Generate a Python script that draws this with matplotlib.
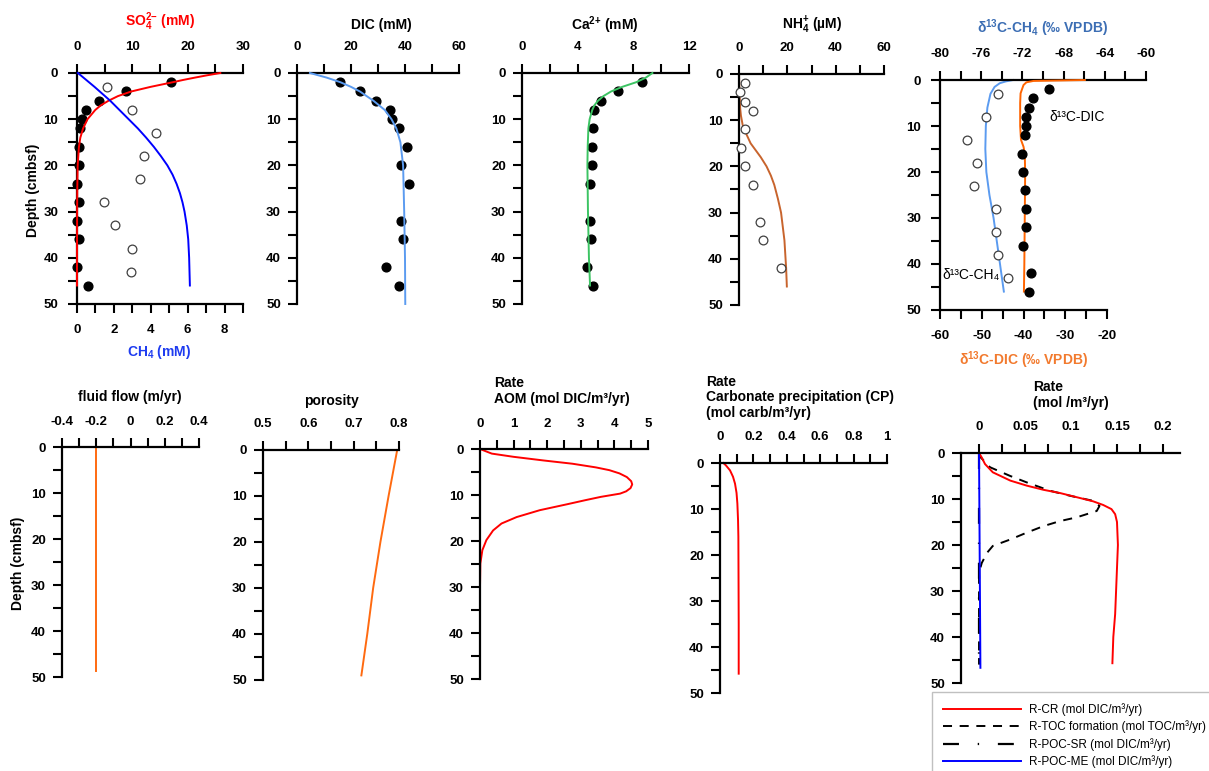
import matplotlib
matplotlib.use("Agg")
import matplotlib.pyplot as plt

plt.rcParams['font.family'] = ['Liberation Sans', 'DejaVu Sans']
plt.rcParams['font.weight'] = 'bold'
plt.rcParams['mathtext.fontset'] = 'custom'
plt.rcParams['mathtext.rm'] = 'Liberation Sans:bold'
plt.rcParams['mathtext.it'] = 'Liberation Sans:bold'
plt.rcParams['mathtext.bf'] = 'Liberation Sans:bold'
plt.rcParams['mathtext.default'] = 'rm'
plt.rcParams['lines.scale_dashes'] = False
plt.rcParams['axes.unicode_minus'] = False

# ---------------- data ----------------
depth_ticks = [0, 5, 10, 15, 20, 25, 30, 35, 40, 45, 50]
depth_labels = ['0', '', '10', '', '20', '', '30', '', '40', '', '50']

# Panel 1: sulfate (measured, filled) and methane (measured, open)
so4_depth = [2, 4, 6, 8, 10, 12, 16, 20, 24, 28, 32, 36, 42, 46]
so4_val = [16.9, 8.9, 4.0, 1.7, 0.9, 0.6, 0.35, 0.4, 0.0, 0.3, 0.0, 0.3, 0.0, 1.9]
ch4_depth = [3, 8, 13, 18, 23, 28, 33, 38, 43]
ch4_val = [1.63, 2.97, 4.26, 3.65, 3.43, 1.47, 2.04, 2.99, 2.92]
so4_mod_depth = [0, 0.5, 1, 1.5, 2, 3, 4, 5, 6, 7, 8, 10, 12, 14, 16, 20, 25, 30, 40, 46]
so4_mod = [25.9, 23.5, 21.3, 19.2, 17.3, 13.3, 9.8, 7.4, 5.7, 4.3, 3.3, 1.9, 1.1, 0.6, 0.35, 0.12, 0.05, 0.02, 0.0, 0.0]
ch4_mod_depth = [0, 3, 6, 9, 12, 14, 16, 18, 20, 22, 24, 26, 28, 30, 33, 36, 40, 46]
ch4_mod = [0.05, 0.95, 1.8, 2.55, 3.3, 3.75, 4.17, 4.55, 4.9, 5.18, 5.4, 5.58, 5.72, 5.83, 5.95, 6.03, 6.08, 6.12]

# Panel 2: DIC
dic_depth = [2, 4, 6, 8, 10, 12, 16, 20, 24, 32, 36, 42, 46]
dic_val = [16.1, 23.4, 29.1, 34.6, 35.2, 37.6, 40.8, 38.7, 41.5, 38.7, 39.4, 33.0, 37.6]
dic_mod_depth = [0, 1, 2, 3, 4, 6, 8, 10, 12, 15, 20, 30, 40, 50]
dic_mod = [4.8, 11.0, 16.1, 20.0, 23.3, 28.3, 32.5, 35.0, 36.8, 38.3, 39.3, 39.7, 40.0, 40.1]

# Panel 3: calcium
ca_depth = [2, 4, 6, 8, 12, 16, 20, 24, 32, 36, 42, 46]
ca_val = [8.65, 6.9, 5.65, 5.2, 5.13, 5.03, 5.03, 4.89, 4.89, 4.96, 4.67, 5.08]
ca_mod_depth = [0, 1, 2, 3, 4, 5, 6, 7, 8, 10, 12, 16, 20, 30, 40, 46]
ca_mod = [9.37, 8.9, 8.2, 7.2, 6.4, 5.85, 5.46, 5.2, 5.05, 4.86, 4.77, 4.72, 4.7, 4.74, 4.81, 4.89]

# Panel 4: ammonium
nh4_depth = [2, 4, 6, 8, 12, 16, 20, 24, 32, 36, 42]
nh4_val = [2.6, 0.5, 2.6, 5.6, 2.3, 0.7, 2.6, 5.6, 8.5, 10.0, 17.2]
nh4_mod_depth = [0, 4, 7.5, 9, 11, 12.5, 15, 18, 20, 22, 24, 27, 30, 36, 42, 46]
nh4_mod = [0, 0.2, 0.5, 0.8, 1.5, 2.6, 4.8, 9.0, 11.4, 13.2, 14.6, 16.1, 17.4, 18.8, 19.5, 19.8]

# Panel 5: isotopes
d13ch4_depth = [3, 8, 13, 18, 23, 28, 33, 38, 43]
d13ch4_val = [-74.4, -75.5, -77.4, -76.4, -76.7, -74.6, -74.6, -74.4, -73.4]
d13dic_depth = [2, 4, 6, 8, 10, 12, 16, 20, 24, 28, 32, 36, 42, 46]
d13dic_val = [-33.8, -37.7, -38.8, -39.4, -39.4, -39.6, -40.4, -40.2, -39.6, -39.5, -39.5, -40.2, -38.1, -38.6]
d13ch4_mod_depth = [0, 0.3, 0.7, 1.5, 3, 6, 10, 15, 20, 25, 30, 38, 46]
d13ch4_mod = [-72.9, -73.6, -74.2, -74.7, -75.1, -75.4, -75.55, -75.6, -75.5, -75.2, -74.8, -74.3, -73.8]
d13dic_mod_depth = [0, 0.1, 0.2, 0.5, 1.1, 2.9, 5, 10, 13, 14.5, 16, 20, 30, 40, 46]
d13dic_mod = [-25.3, -31.0, -37.6, -39.3, -40.0, -40.7, -40.8, -40.8, -40.6, -40.0, -39.7, -39.6, -39.7, -39.8, -39.9]

# Panel 6: fluid flow
flow_depth = [0, 48.8]
flow_val = [-0.2, -0.2]

# Panel 7: porosity
por_depth = [0, 10, 20, 30, 40, 49]
por_val = [0.796, 0.777, 0.759, 0.743, 0.73, 0.717]

# Panel 8: AOM rate
aom_depth = [0, 1, 1.7, 2.5, 3.2, 4, 4.6, 5.3, 6.1, 7, 7.7, 8.5, 9.2, 9.7, 10.4, 11.1, 12,
             13.3, 14.8, 16.2, 17.7, 19.8, 22, 24.9, 30, 46.7]
aom_val = [0, 0.35, 1.0, 1.9, 2.75, 3.45, 3.85, 4.15, 4.37, 4.5, 4.53, 4.48, 4.35, 4.17, 3.6, 3.15, 2.6,
           1.78, 1.09, 0.64, 0.39, 0.19, 0.07, 0.01, 0.0, 0.0]

# Panel 9: carbonate precipitation
cp_depth = [0, 0.5, 1.6, 3, 4.5, 6.5, 8.8, 12.4, 16, 25, 35, 45.8]
cp_val = [0.02, 0.035, 0.06, 0.078, 0.09, 0.099, 0.104, 0.108, 0.11, 0.111, 0.112, 0.112]

# Panel 10: rates
cr_depth = [0, 1, 2.4, 4.2, 6, 7.1, 8, 8.7, 9.6, 10.5, 11.3, 12.2, 13.3, 15, 20, 25, 30, 35, 40, 45.7]
cr_val = [0, 0.003, 0.0065, 0.015, 0.034, 0.052, 0.070, 0.088, 0.106, 0.124, 0.135, 0.144, 0.148,
          0.150, 0.151, 0.150, 0.149, 0.148, 0.146, 0.145]
toc_depth = [0, 1, 3.1, 5, 6.4, 8.2, 9.3, 10.4, 11.5, 12.6, 14, 14.8, 15.9, 17.3, 18.8, 20.2, 21.7,
             23.9, 26, 46]
toc_val = [0, 0.002, 0.012, 0.034, 0.052, 0.077, 0.099, 0.124, 0.131, 0.128, 0.106, 0.088, 0.070,
           0.052, 0.034, 0.015, 0.0087, 0.003, 0.0, 0.0]
pocsr_depth = [0, 46]
pocsr_val = [0.0003, 0.0003]
pocme_depth = [0, 46.7]
pocme_val = [0.0, 0.0015]
legend_labels = ['R-CR (mol DIC/m\u00b3/yr)', 'R-TOC formation (mol TOC/m\u00b3/yr)',
                 'R-POC-SR (mol DIC/m\u00b3/yr)', 'R-POC-ME (mol DIC/m\u00b3/yr)']

# ---------------- figure ----------------
W, H = 1209, 771
fig = plt.figure(figsize=(W / 100, H / 100), dpi=100)


def box(l, t, r, b):
    return [l / W, 1 - b / H, (r - l) / W, (b - t) / H]


def ftext(x, y, s, **kw):
    kw.setdefault('fontsize', 10)
    kw.setdefault('ha', 'center')
    kw.setdefault('va', 'center')
    fig.text(x / W, 1 - y / H, s, **kw)


def make_panel(rect, xlim, xticks, xlabels, ypad=5, xpad=8):
    ax = fig.add_axes(box(*rect))
    ax.patch.set_visible(False)
    ax.set_xlim(*xlim)
    ax.set_ylim(50, 0)
    ax.xaxis.tick_top()
    for s in ['right', 'bottom']:
        ax.spines[s].set_visible(False)
    for s in ['left', 'top']:
        ax.spines[s].set_linewidth(1.6)
    ax.set_xticks(xticks)
    ax.set_xticklabels(xlabels)
    ax.set_yticks(depth_ticks)
    ax.set_yticklabels(depth_labels)
    ax.tick_params(axis='x', direction='out', length=6.5, width=1.5, pad=xpad, labelsize=9.5)
    ax.tick_params(axis='y', direction='out', length=6.5, width=1.5, pad=ypad, labelsize=9.5)
    return ax


def bottom_axis(ax, rect, xlim, xticks, xlabels, bounds=None):
    axb = fig.add_axes(box(*rect), sharey=ax)
    axb.patch.set_visible(False)
    axb.set_xlim(*xlim)
    for s in ['right', 'top', 'left']:
        axb.spines[s].set_visible(False)
    axb.spines['bottom'].set_linewidth(1.6)
    if bounds is not None:
        axb.spines['bottom'].set_bounds(*bounds)
    axb.set_xticks(xticks)
    axb.set_xticklabels(xlabels)
    axb.tick_params(axis='x', direction='out', length=6.5, width=1.5, pad=8, labelsize=9.5)
    axb.tick_params(axis='y', left=False, labelleft=False)
    return axb


filled = dict(marker='o', ls='none', ms=6.3, mfc='black', mec='black', clip_on=False, zorder=3)
opened = dict(marker='o', ls='none', ms=6.3, mfc='white', mec='#404040', mew=0.9, clip_on=False, zorder=3)
LW = 1.4

# Panel 1
r1 = (77, 73, 243, 304)
ax1 = make_panel(r1, (0, 30), list(range(0, 31, 5)), ['0', '', '10', '', '20', '', '30'], ypad=7)
ax1b = bottom_axis(ax1, r1, (0, 9), list(range(0, 10)), ['0', '', '2', '', '4', '', '6', '', '8', ''])
ax1b.plot(ch4_mod, ch4_mod_depth, color='#0000ff', lw=LW, clip_on=False)
ax1b.plot(ch4_val, ch4_depth, **opened)
ax1.plot(so4_mod, so4_mod_depth, color='#ff0000', lw=LW, clip_on=False, zorder=4)
ax1.plot(so4_val, so4_depth, **filled)
ftext(160, 22, 'SO$_4^{2{-}}$ (mM)', color='#ff0000')
ftext(159, 352, 'CH$_4$ (mM)', color='#1f3cf0')
ftext(33, 190, 'Depth (cmbsf)', rotation=90)

# Panel 2
ax2 = make_panel((297, 73, 459, 304), (0, 60), list(range(0, 61, 10)), ['0', '', '20', '', '40', '', '60'])
ax2.plot(dic_mod, dic_mod_depth, color='#5b9bf0', lw=LW, clip_on=False, zorder=4)
ax2.plot(dic_val, dic_depth, **filled)
ftext(381, 25, 'DIC (mM)')

# Panel 3
ax3 = make_panel((522, 73, 689, 304), (0, 12), list(range(0, 13, 2)), ['0', '', '4', '', '8', '', '12'])
ax3.plot(ca_mod, ca_mod_depth, color='#3cc463', lw=LW, clip_on=False, zorder=4)
ax3.plot(ca_val, ca_depth, **filled)
ftext(605, 25, 'Ca$^{2{+}}$ (mM)')

# Panel 4
ax4 = make_panel((739, 74, 884, 305), (0, 60), list(range(0, 61, 10)), ['0', '', '20', '', '40', '', '60'])
ax4.plot(nh4_mod, nh4_mod_depth, color='#c8642d', lw=LW, clip_on=False)
ax4.plot(nh4_val, nh4_depth, **opened)
ftext(812, 25, 'NH$_4^{{+}}$ (\u00b5M)')

# Panel 5
r5 = (940, 80, 1146, 310)
ax5 = make_panel(r5, (-80, -60), list(range(-80, -59, 2)),
                 ['-80', '', '-76', '', '-72', '', '-68', '', '-64', '', '-60'], ypad=7)
ax5b = bottom_axis(ax5, r5, (-60, -60 + 206 / 4.175), list(range(-60, -19, 5)),
                   ['-60', '', '-50', '', '-40', '', '-30', '', '-20'], bounds=(-60, -20))
ax5.plot(d13ch4_mod, d13ch4_mod_depth, color='#5b9bf0', lw=LW, clip_on=False)
ax5.plot(d13ch4_val, d13ch4_depth, **opened)
ax5b.plot(d13dic_mod, d13dic_mod_depth, color='#ff6400', lw=LW, clip_on=False)
ax5b.plot(d13dic_val, d13dic_depth, **filled)
ax5.text(-69.4, 8.0, '\u03b4\u00b9\u00b3C-DIC', fontsize=10, fontweight='normal', va='center', ha='left')
ax5.text(-79.8, 42.4, '\u03b4\u00b9\u00b3C-CH\u2084', fontsize=10, fontweight='normal', va='center', ha='left')
ftext(1043, 28, '\u03b4$^{13}$C-CH$_4$ (\u2030 VPDB)', color='#3c6eb4')
ftext(1023, 360, '\u03b4$^{13}$C-DIC (\u2030 VPDB)', color='#f27a2e')

# Panel 6
ax6 = make_panel((62, 447, 199, 677), (-0.4, 0.4), [-0.4, -0.3, -0.2, -0.1, 0, 0.1, 0.2, 0.3, 0.4],
                 ['-0.4', '', '-0.2', '', '0', '', '0.2', '', '0.4'], xpad=7.5)
ax6.plot(flow_val, flow_depth, color='#ff6a10', lw=LW, clip_on=False)
ftext(130, 397, 'fluid flow (m/yr)')
ftext(18, 563, 'Depth (cmbsf)', rotation=90)

# Panel 7
ax7 = make_panel((263, 450, 399, 680), (0.5, 0.8), [0.5, 0.55, 0.6, 0.65, 0.7, 0.75, 0.8],
                 ['0.5', '', '0.6', '', '0.7', '', '0.8'])
ax7.plot(por_val, por_depth, color='#ff6a10', lw=LW, clip_on=False)
ftext(331, 401, 'porosity')

# Panel 8
ax8 = make_panel((480, 449, 648, 679), (0, 5), [0, 0.5, 1, 1.5, 2, 2.5, 3, 3.5, 4, 4.5, 5],
                 ['0', '', '1', '', '2', '', '3', '', '4', '', '5'], xpad=7.5)
ax8.plot(aom_val, aom_depth, color='#ff0000', lw=LW, clip_on=False)
ftext(494, 383, 'Rate', ha='left')
ftext(494, 399, 'AOM (mol DIC/m\u00b3/yr)', ha='left')

# Panel 9
ax9 = make_panel((720, 463, 887, 693), (0, 1), [0, 0.1, 0.2, 0.3, 0.4, 0.5, 0.6, 0.7, 0.8, 0.9, 1.0],
                 ['0', '', '0.2', '', '0.4', '', '0.6', '', '0.8', '', '1'])
ax9.plot(cp_val, cp_depth, color='#ff0000', lw=LW, clip_on=False)
ftext(706, 382, 'Rate', ha='left')
ftext(706, 397, 'Carbonate precipitation (CP)', ha='left')
ftext(706, 413, '(mol carb/m\u00b3/yr)', ha='left')

# Panel 10
ax10 = make_panel((961, 453, 1180, 683), (-0.0196, 0.2185),
                  [0, 0.025, 0.05, 0.075, 0.1, 0.125, 0.15, 0.175, 0.2],
                  ['0', '', '0.05', '', '0.1', '', '0.15', '', '0.2'])
l_sr, = ax10.plot(pocsr_val, pocsr_depth, color='black', lw=1.6, ls=(0, (11.5, 13.5, 1, 13.5)), clip_on=False)
l_toc, = ax10.plot(toc_val, toc_depth, color='black', lw=1.4, ls=(0, (6.5, 5.5)), clip_on=False)
l_cr, = ax10.plot(cr_val, cr_depth, color='#ff0000', lw=LW, clip_on=False)
l_me, = ax10.plot(pocme_val, pocme_depth, color='#0000ff', lw=LW, clip_on=False)
ftext(1033, 387, 'Rate', ha='left')
ftext(1033, 403, '(mol /m\u00b3/yr)', ha='left')

leg = ax10.legend([l_cr, l_toc, l_sr, l_me], legend_labels,
                  loc='upper left', bbox_to_anchor=(932 / W, 1 - 692 / H),
                  bbox_transform=fig.transFigure, borderaxespad=0,
                  prop={'weight': 'normal', 'size': 8.5}, handlelength=6.6,
                  handletextpad=0.68, borderpad=0.95, labelspacing=0.38,
                  fancybox=False, framealpha=1, edgecolor='#c0c0c0')
leg.get_frame().set_linewidth(1.0)

fig.savefig('out.png', dpi=100)
